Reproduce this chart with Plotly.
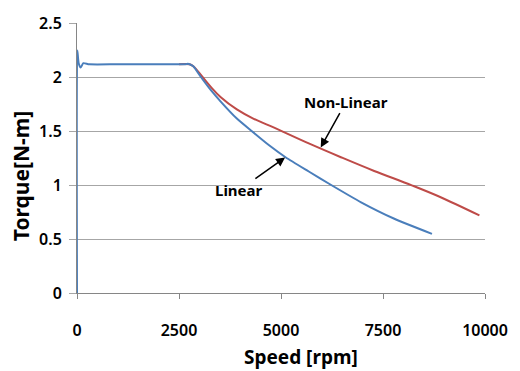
import plotly.graph_objects as go

# Linear model (blue)
linear_rpm = [0, 8, 40, 92, 155, 300, 1000, 2000, 2650, 2720, 2760, 2850, 3037, 3277, 3517, 3918, 4279, 4700, 5120, 5681, 6230, 6963, 7764, 8700]
linear_T = [0, 2.245, 2.13, 2.088, 2.128, 2.118, 2.118, 2.118, 2.118, 2.123, 2.118, 2.10, 2.0, 1.88, 1.775, 1.615, 1.5, 1.37, 1.255, 1.125, 1.0, 0.84, 0.69, 0.548]

# Non-linear model (red)
nonlinear_rpm = [2500, 2760, 2850, 3077, 3300, 3517, 3918, 4320, 4719, 5681, 6483, 7284, 8205, 8887, 9863]
nonlinear_T = [2.118, 2.118, 2.10, 2.0, 1.9, 1.815, 1.70, 1.615, 1.55, 1.385, 1.255, 1.13, 0.997, 0.891, 0.718]

x_ticks = [0, 2500, 5000, 7500, 10000]
y_ticks = [0, 0.5, 1, 1.5, 2, 2.5]
y_ticklabels = ["0", "0.5", "1", "1.5", "2", "2.5"]

BLUE = "#4A7EBB"
RED = "#BE4B48"
FONT = "Noto Sans"

fig = go.Figure()
fig.add_trace(go.Scatter(x=nonlinear_rpm, y=nonlinear_T, mode="lines",
                         line=dict(color=RED, width=2, shape="spline", smoothing=1.0), name="Non-Linear"))
fig.add_trace(go.Scatter(x=linear_rpm, y=linear_T, mode="lines",
                         line=dict(color=BLUE, width=2, shape="spline", smoothing=0.6), name="Linear"))

fig.update_layout(
    width=520, height=371,
    margin=dict(l=77, r=27, t=18, b=78),
    paper_bgcolor="white", plot_bgcolor="white",
    showlegend=False,
    font=dict(family=FONT, color="black"),
    xaxis=dict(range=[0, 10000], tickvals=x_ticks, ticktext=[str(v) for v in x_ticks],
               showgrid=False, zeroline=False, showline=True, linecolor="#868686", linewidth=1,
               ticks="outside", ticklen=5, tickcolor="#868686",
               ticklabelstandoff=18,
               tickfont=dict(family=FONT, size=16, color="black", weight=600)),
    yaxis=dict(range=[0, 2.5], tickvals=y_ticks, ticktext=y_ticklabels,
               showgrid=True, gridcolor="#A6A6A6", gridwidth=1,
               zeroline=False, showline=True, linecolor="#868686", linewidth=1,
               ticks="outside", ticklen=7, tickcolor="#A6A6A6",
               ticklabelstandoff=4,
               tickfont=dict(family=FONT, size=16, color="black", weight=600)),
)

# axis titles
fig.add_annotation(text="<b>Speed [rpm]</b>", xref="paper", yref="paper",
                   x=(305 - 77) / 416, y=-(358 - 293) / 275, xanchor="center", yanchor="middle",
                   showarrow=False, font=dict(family=FONT, size=19, color="black"))
fig.add_annotation(text="<b>Torque[N-m]</b>", xref="paper", yref="paper",
                   x=-(77 - 20) / 416, y=(293 - 174) / 275, xanchor="center", yanchor="middle",
                   textangle=-90, showarrow=False, font=dict(family=FONT, size=21, color="black"))

# callouts
fig.add_annotation(text="<b>Non-Linear</b>", x=5962, y=1.34, xref="x", yref="y",
                   ax=351.7 - 325.7, ay=96.7 - 143.3, axref="pixel", ayref="pixel",
                   showarrow=True, arrowhead=2, arrowsize=1.2, arrowwidth=1.5, arrowcolor="black",
                   standoff=1, font=dict(family=FONT, size=15, color="black"))
fig.add_annotation(text="<b>Linear</b>", x=5120, y=1.26, xref="x", yref="y",
                   ax=241.7 - 288.3, ay=188.3 - 155, axref="pixel", ayref="pixel",
                   showarrow=True, arrowhead=2, arrowsize=1.2, arrowwidth=1.5, arrowcolor="black",
                   standoff=1, font=dict(family=FONT, size=15, color="black"))

fig.write_html("out.html")
